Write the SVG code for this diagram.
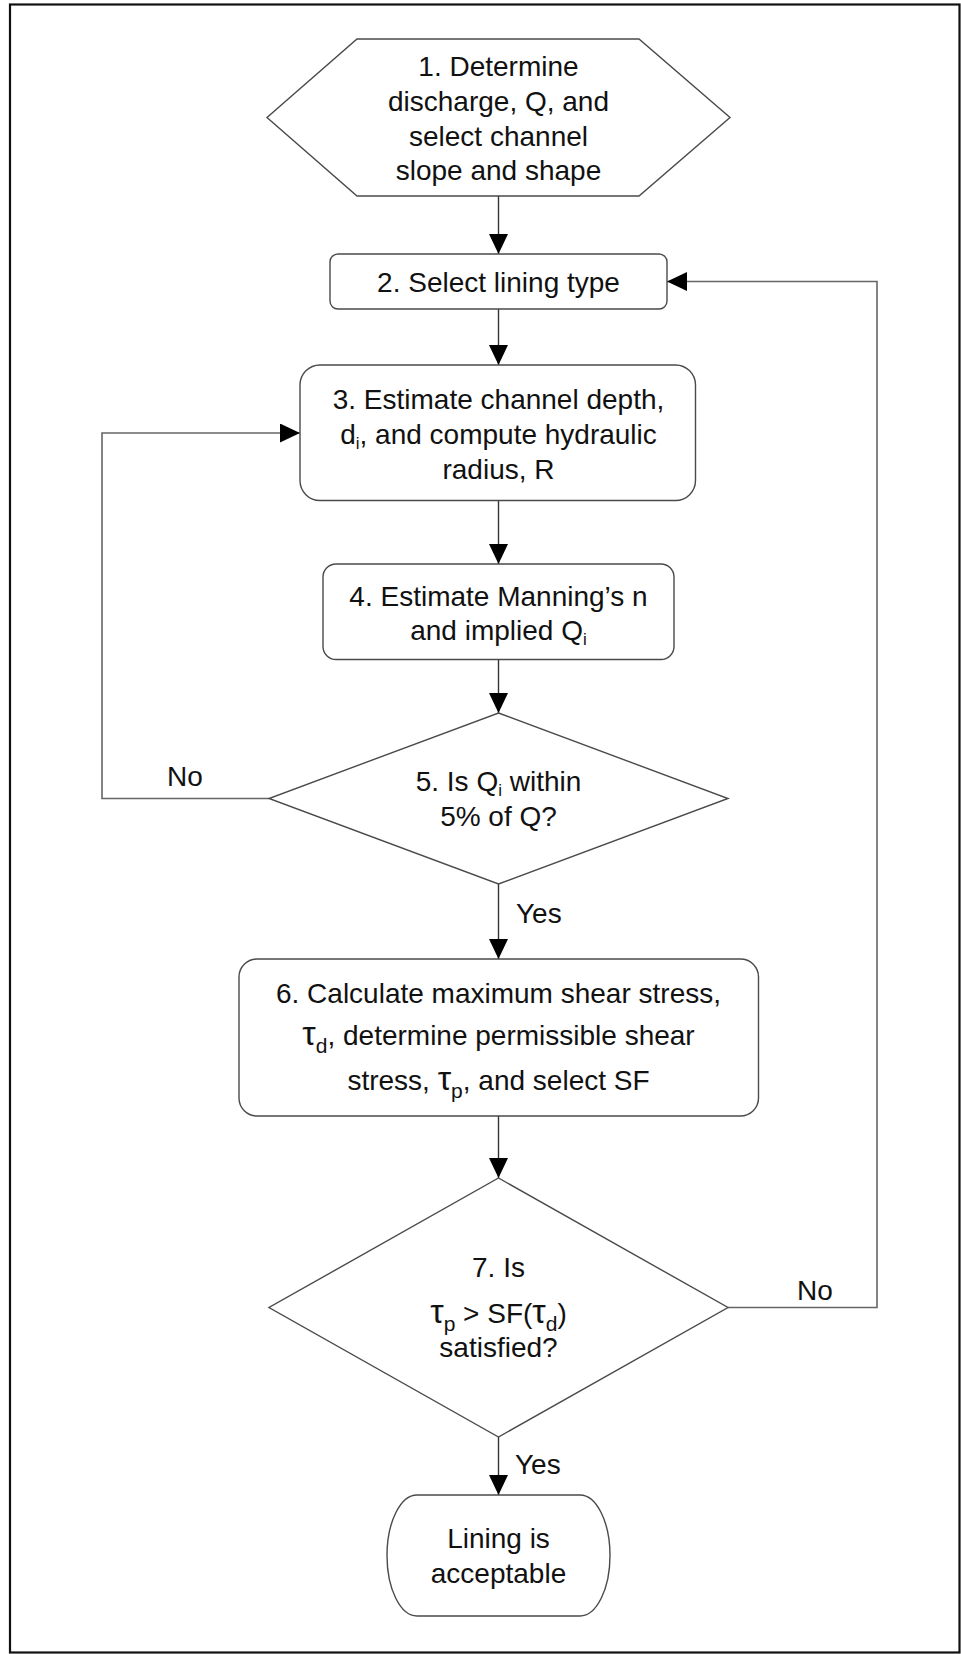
<svg xmlns="http://www.w3.org/2000/svg" width="961" height="1654" viewBox="0 0 961 1654">
<defs>
<style>
.shape{fill:#fff;stroke:#4a4a4a;stroke-width:1.4}
.conn{fill:none;stroke:#333;stroke-width:1.4}
.loop{fill:none;stroke:#666;stroke-width:1.6}
text{font-family:"Liberation Sans",Arial,sans-serif;font-size:28px;fill:#111;text-anchor:middle}
.lbl{text-anchor:start}
.sub{font-size:17px}
.tau{font-size:34px}
.tsub{font-size:21px}
</style>
<marker id="ah" markerWidth="20" markerHeight="19" refX="20" refY="9.5" orient="auto" markerUnits="userSpaceOnUse">
<path d="M0,0 L20,9.5 L0,19 z" fill="#000"/>
</marker>
</defs>
<rect x="0" y="0" width="961" height="1654" fill="#fff"/>
<rect x="10" y="4.5" width="949.5" height="1648" fill="none" stroke="#111" stroke-width="2.2"/>

<g id="connectors">
<line class="conn" x1="498.5" y1="196" x2="498.5" y2="254" marker-end="url(#ah)"/>
<line class="conn" x1="498.5" y1="309" x2="498.5" y2="365" marker-end="url(#ah)"/>
<line class="conn" x1="498.5" y1="500.5" x2="498.5" y2="564" marker-end="url(#ah)"/>
<line class="conn" x1="498.5" y1="659.5" x2="498.5" y2="713" marker-end="url(#ah)"/>
<line class="conn" x1="498.5" y1="884" x2="498.5" y2="959" marker-end="url(#ah)"/>
<line class="conn" x1="498.5" y1="1116" x2="498.5" y2="1178" marker-end="url(#ah)"/>
<line class="conn" x1="498.5" y1="1437" x2="498.5" y2="1495" marker-end="url(#ah)"/>
<polyline class="loop" points="269,798.5 102,798.5 102,433 300,433" marker-end="url(#ah)"/>
<polyline class="loop" points="728,1307.5 877,1307.5 877,281.5 667,281.5" marker-end="url(#ah)"/>
<text x="516" y="923" class="lbl">Yes</text>
<text x="515" y="1474" class="lbl">Yes</text>
<text x="167" y="786" class="lbl">No</text>
<text x="797" y="1300" class="lbl">No</text>
</g>

<g id="node1">
<polygon class="shape" points="357,39 639,39 730,117.5 639,196 357,196 267,117.5"/>
<text x="498.5" y="76">1. Determine</text>
<text x="498.5" y="111">discharge, Q, and</text>
<text x="498.5" y="146">select channel</text>
<text x="498.5" y="180">slope and shape</text>
</g>

<g id="node2">
<rect class="shape" x="330" y="254" width="337" height="55" rx="8"/>
<text x="498.5" y="291.5">2. Select lining type</text>
</g>

<g id="node3">
<rect class="shape" x="300" y="365" width="395.5" height="135.5" rx="20"/>
<text x="498.5" y="408.5">3. Estimate channel depth,</text>
<text x="498.5" y="443.5">d<tspan class="sub" dy="5">i</tspan><tspan dy="-5">, and compute hydraulic</tspan></text>
<text x="498.5" y="478.5">radius, R</text>
</g>

<g id="node4">
<rect class="shape" x="323" y="564" width="351" height="95.5" rx="13"/>
<text x="498.5" y="606">4. Estimate Manning’s n</text>
<text x="498.5" y="640">and implied Q<tspan class="sub" dy="5">i</tspan></text>
</g>

<g id="node5">
<polygon class="shape" points="498.5,713 728,798.5 498.5,884 269,798.5"/>
<text x="498.5" y="791">5. Is Q<tspan class="sub" dy="5">i</tspan><tspan dy="-5"> within</tspan></text>
<text x="498.5" y="826">5% of Q?</text>
</g>

<g id="node6">
<rect class="shape" x="239" y="959" width="519.5" height="157" rx="18"/>
<text x="498.5" y="1002.5">6. Calculate maximum shear stress,</text>
<text x="498.5" y="1045"><tspan class="tau">τ</tspan><tspan class="tsub" dy="8">d</tspan><tspan dy="-8">, determine permissible shear</tspan></text>
<text x="498.5" y="1090">stress, <tspan class="tau">τ</tspan><tspan class="tsub" dy="8">p</tspan><tspan dy="-8">, and select SF</tspan></text>
</g>

<g id="node7">
<polygon class="shape" points="498.5,1178 728,1307.5 498.5,1437 269,1307.5"/>
<text x="498.5" y="1277">7. Is</text>
<text x="498.5" y="1323"><tspan class="tau">τ</tspan><tspan class="tsub" dy="8">p</tspan><tspan dy="-8"> &gt; SF(</tspan><tspan class="tau">τ</tspan><tspan class="tsub" dy="8">d</tspan><tspan dy="-8">)</tspan></text>
<text x="498.5" y="1357">satisfied?</text>
</g>

<g id="node8">
<path class="shape" d="M417,1495 H580 A30,60.5 0 0 1 580,1616 H417 A30,60.5 0 0 1 417,1495 Z"/>
<text x="498.5" y="1548">Lining is</text>
<text x="498.5" y="1583">acceptable</text>
</g>
</svg>
